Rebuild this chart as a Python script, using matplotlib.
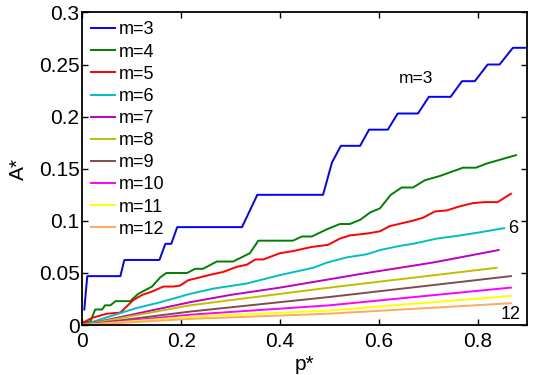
import matplotlib
matplotlib.use("Agg")
import matplotlib.pyplot as plt

plt.rcParams['font.family'] = ['Liberation Sans', 'DejaVu Sans']

# m=3 (step-like)
x3 = [0.004, 0.010, 0.077, 0.085, 0.156, 0.168, 0.180, 0.192, 0.323, 0.354, 0.487, 0.505, 0.523,
      0.562, 0.580, 0.618, 0.638, 0.679, 0.701, 0.745, 0.768, 0.794, 0.820, 0.844, 0.871, 0.897]
y3 = [0.015, 0.047, 0.047, 0.0625, 0.0625, 0.078, 0.078, 0.094, 0.094, 0.125, 0.125, 0.156, 0.172,
      0.172, 0.1875, 0.1875, 0.203, 0.203, 0.219, 0.219, 0.234, 0.234, 0.25, 0.25, 0.266, 0.266]

x4 = [0.0, 0.016, 0.026, 0.040, 0.046, 0.057, 0.067, 0.097, 0.113, 0.141, 0.158, 0.170, 0.212,
      0.228, 0.244, 0.272, 0.305, 0.339, 0.356, 0.426, 0.444, 0.464, 0.495, 0.521, 0.541, 0.562,
      0.582, 0.602, 0.624, 0.646, 0.669, 0.693, 0.723, 0.770, 0.796, 0.818, 0.877]
y4 = [0.003, 0.003, 0.015, 0.015, 0.019, 0.019, 0.023, 0.023, 0.030, 0.037, 0.046, 0.050, 0.050,
      0.054, 0.054, 0.061, 0.061, 0.069, 0.081, 0.081, 0.085, 0.085, 0.092, 0.097, 0.097, 0.101,
      0.108, 0.112, 0.125, 0.132, 0.132, 0.139, 0.143, 0.151, 0.151, 0.155, 0.163]

x5 = [0.0, 0.020, 0.050, 0.077, 0.103, 0.121, 0.140, 0.164, 0.184, 0.198, 0.214, 0.265, 0.285,
      0.313, 0.333, 0.350, 0.366, 0.400, 0.426, 0.464, 0.497, 0.521, 0.541, 0.578, 0.602, 0.622,
      0.667, 0.689, 0.713, 0.737, 0.764, 0.790, 0.814, 0.840, 0.867]
y5 = [0.002, 0.007, 0.011, 0.012, 0.024, 0.029, 0.032, 0.037, 0.037, 0.038, 0.043, 0.049, 0.051,
      0.056, 0.058, 0.063, 0.063, 0.069, 0.071, 0.075, 0.077, 0.083, 0.086, 0.088, 0.090, 0.095,
      0.100, 0.103, 0.109, 0.110, 0.114, 0.117, 0.118, 0.118, 0.126]

x6 = [0.0, 0.063, 0.107, 0.158, 0.218, 0.265, 0.333, 0.400, 0.467, 0.495, 0.535, 0.576, 0.602,
      0.642, 0.669, 0.717, 0.764, 0.804, 0.853]
y6 = [0.0, 0.0095, 0.016, 0.022, 0.030, 0.035, 0.040, 0.048, 0.055, 0.060, 0.065, 0.068, 0.072,
      0.076, 0.078, 0.083, 0.086, 0.089, 0.093]

x7 = [0.0, 0.1, 0.218, 0.3, 0.4, 0.5, 0.562, 0.709, 0.842]
y7 = [0.0, 0.010, 0.022, 0.029, 0.036, 0.044, 0.049, 0.060, 0.072]

x8 = [0.0, 0.218, 0.5, 0.838]
y8 = [0.0, 0.019, 0.036, 0.055]

x9 = [0.0, 0.218, 0.5, 0.867]
y9 = [0.0, 0.013, 0.027, 0.047]

x10 = [0.0, 0.218, 0.5, 0.867]
y10 = [0.0, 0.010, 0.019, 0.036]

x11 = [0.0, 0.218, 0.5, 0.867]
y11 = [0.0, 0.008, 0.014, 0.028]

x12 = [0.0, 0.218, 0.5, 0.867]
y12 = [0.0, 0.006, 0.011, 0.021]

labels = ['m=3', 'm=4', 'm=5', 'm=6', 'm=7', 'm=8', 'm=9', 'm=10', 'm=11', 'm=12']
colors = ['#0000ff', '#008000', '#ff0000', '#00bfbf', '#bf00bf', '#bfbf00',
          '#804c4c', '#ff00ff', '#ffff00', '#ffa860']
xs = [x3, x4, x5, x6, x7, x8, x9, x10, x11, x12]
ys = [y3, y4, y5, y6, y7, y8, y9, y10, y11, y12]

xticks = [0, 0.2, 0.4, 0.6, 0.8]
xticklabels = ['0', '0.2', '0.4', '0.6', '0.8']
yticks = [0, 0.05, 0.1, 0.15, 0.2, 0.25, 0.3]
yticklabels = ['0', '0.05', '0.1', '0.15', '0.2', '0.25', '0.3']

fig = plt.figure(figsize=(5.38, 3.75), dpi=100)
ax = fig.add_axes([0.153, 0.133, 0.827, 0.834])
for x, y, c, l in zip(xs, ys, colors, labels):
    ax.plot(x, y, color=c, lw=1.4, label=l)

ax.set_xlim(0, 0.9)
ax.set_ylim(0, 0.3)
ax.set_xticks(xticks)
ax.set_xticklabels(xticklabels)
ax.set_yticks(yticks)
ax.set_yticklabels(yticklabels)
ax.tick_params(direction='in', top=True, right=True, length=4, width=1, labelsize=15)
ax.tick_params(axis='x', pad=5)
ax.tick_params(axis='y', pad=2)
for s in ax.spines.values():
    s.set_linewidth(1.3)
ax.set_xlabel('p*', fontsize=15)
ax.set_ylabel('A*', fontsize=15)
ax.xaxis.set_label_coords(0.5, -0.095)
ax.yaxis.set_label_coords(-0.122, 0.5)

ax.text(0.675, 0.237, 'm=3', fontsize=12.5, ha='center', va='center')
ax.text(0.871, 0.093, '6', fontsize=13, ha='center', va='center')
ax.text(0.867, 0.010, '12', fontsize=13, ha='center', va='center')

leg = ax.legend(loc='upper left', frameon=False, fontsize=13, handlelength=1.3,
                handletextpad=0.2, labelspacing=0.285, borderaxespad=0.1,
                bbox_to_anchor=(0.0, 1.0))

fig.savefig('out.png', dpi=100)
